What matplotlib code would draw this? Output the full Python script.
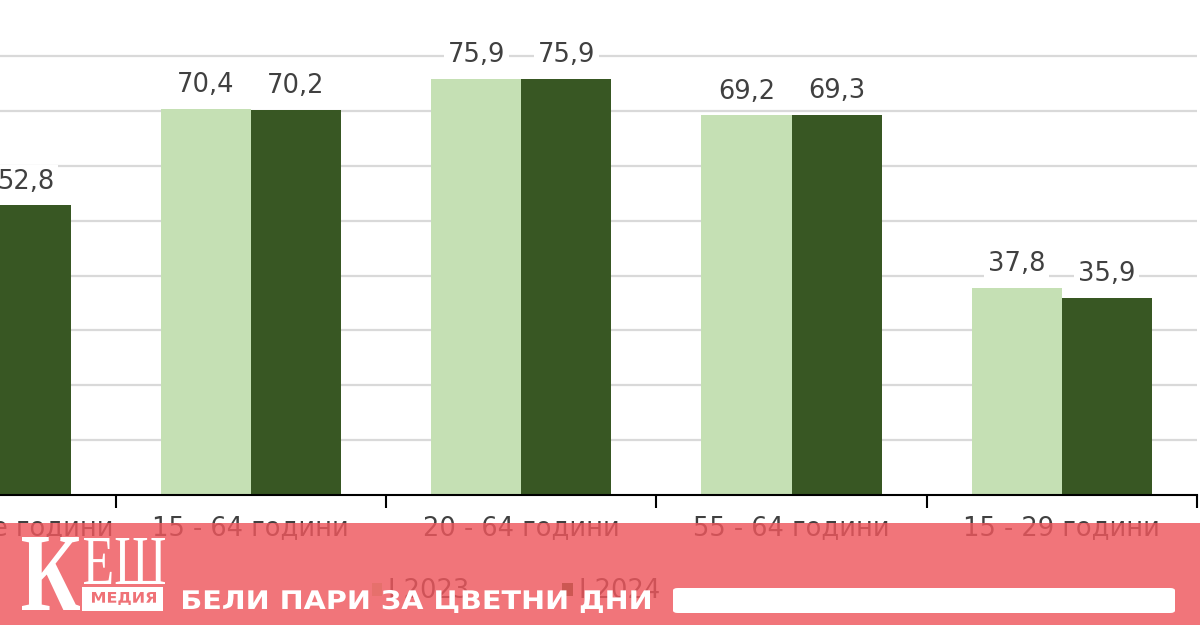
import numpy as np
import matplotlib
matplotlib.use('Agg')
import matplotlib.pyplot as plt
from matplotlib.patches import Rectangle, FancyBboxPatch, PathPatch
from matplotlib.textpath import TextPath
from matplotlib.font_manager import FontProperties
from matplotlib.transforms import Affine2D, IdentityTransform

# data
categories = ['15 и повече години', '15 - 64 години', '20 - 64 години',
              '55 - 64 години', '15 - 29 години']
series_names = ['I 2023', 'I 2024']
values_2023 = [53.0, 70.4, 75.9, 69.2, 37.8]
values_2024 = [52.8, 70.2, 75.9, 69.3, 35.9]

light_green = '#c5e0b4'
dark_green = '#385723'
text_gray = '#404040'

W, H = 1200, 625
fig = plt.figure(figsize=(W / 100, H / 100), dpi=100)
ax = fig.add_axes([0.0, 0.208, 0.9975, 0.790])

x = np.arange(len(categories))
w = 1 / 3
bars1 = ax.bar(x - w / 2, values_2023, w, color=light_green, label=series_names[0], zorder=2)
bars2 = ax.bar(x + w / 2, values_2024, w, color=dark_green, label=series_names[1], zorder=2)

# value labels with white background (they hide the gridlines)
for bars, vals in [(bars1, values_2023), (bars2, values_2024)]:
    for b, v in zip(bars, vals):
        ax.annotate(f'{v:.1f}'.replace('.', ','),
                    (b.get_x() + b.get_width() / 2, v),
                    xytext=(0, 17), textcoords='offset points',
                    ha='center', va='center', fontsize=18.5, color=text_gray,
                    bbox=dict(boxstyle='square,pad=0.15', fc='white', ec='none'),
                    zorder=4)

ax.set_ylim(0, 90)
ax.set_yticks(np.arange(10, 90, 10))
ax.yaxis.grid(True, color='#d9d9d9', linewidth=1.6, zorder=0)
ax.set_axisbelow(True)
ax.tick_params(axis='y', length=0, labelleft=False)

for s in ['top', 'right', 'left']:
    ax.spines[s].set_visible(False)
ax.spines['bottom'].set_color('black')
ax.spines['bottom'].set_linewidth(1.5)

# boundary ticks
ax.set_xticks(np.arange(len(categories)) + 0.5)
ax.set_xticklabels([])
ax.tick_params(axis='x', which='major', length=9, width=1.5, color='black')
ax.set_xlim(0.072, 4.5)

# category labels (first one is partly outside the visible range)
for i, cat in enumerate(categories):
    ax.annotate(cat, (i, 0), xycoords=('data', 'axes fraction'),
                xytext=(0, -24), textcoords='offset points',
                ha='center', va='center', fontsize=18.5, color=text_gray,
                annotation_clip=False)

leg = fig.legend(handles=[bars1, bars2], labels=series_names, ncol=2, loc='center',
                 bbox_to_anchor=(0.43, 0.054), frameon=False, fontsize=18.5,
                 handlelength=0.4, handleheight=0.4, handletextpad=0.25,
                 columnspacing=3.6)
for t in leg.get_texts():
    t.set_color(text_gray)

# red banner overlay
banner_red = '#ee575d'
fig.add_artist(Rectangle((0, 0), 1, 1 - 523 / H, transform=fig.transFigure,
                         facecolor=banner_red, edgecolor='none', alpha=0.82, zorder=10))


def fit_text(s, left, top, right, bottom, color, family='DejaVu Sans',
             weight='bold', z=11):
    # text path stretched to fill a box given in pixels from top-left
    tp = TextPath((0, 0), s, size=100, prop=FontProperties(family=family, weight=weight))
    ext = tp.get_extents()
    sx = (right - left) / ext.width
    sy = (bottom - top) / ext.height
    tr = (Affine2D().translate(-ext.x0, -ext.y0).scale(sx, sy)
          .translate(left, H - bottom))
    fig.add_artist(PathPatch(tr.transform_path(tp), transform=IdentityTransform(),
                             facecolor=color, edgecolor='none', zorder=z))


# logo
fit_text('К', 22, 537, 80, 610, 'white', family='Liberation Serif')
fit_text('ЕШ', 84, 538, 165, 584, 'white', family='Liberation Serif', weight='normal')
fig.add_artist(Rectangle((82 / W, 1 - 611 / H), 81 / W, 24 / H,
                         transform=fig.transFigure, facecolor='white',
                         edgecolor='none', zorder=11))
fit_text('МЕДИЯ', 92, 592, 156, 605, '#ef7277', z=12)

fit_text('БЕЛИ ПАРИ ЗА ЦВЕТНИ ДНИ', 183, 590, 650, 613, 'white')
fig.add_artist(FancyBboxPatch((673 / W, 1 - 613 / H), 502 / W, 25 / H,
                              boxstyle='round,pad=0,rounding_size=0.004',
                              transform=fig.transFigure, facecolor='white',
                              edgecolor='none', zorder=11))

fig.savefig('out.png', dpi=100)
